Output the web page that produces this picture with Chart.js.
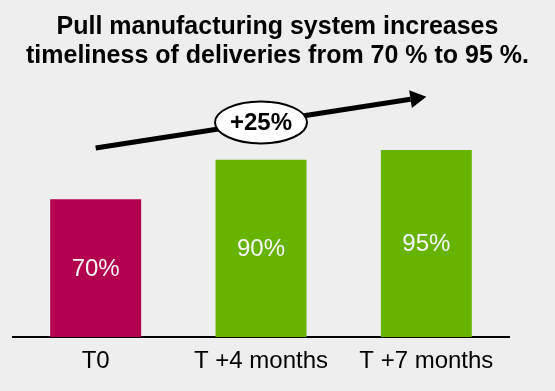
<!DOCTYPE html>
<html>
<head>
<meta charset="utf-8">
<script src="https://cdn.jsdelivr.net/npm/chart.js@4.4.0/dist/chart.umd.min.js"></script>
<style>
  html, body { margin: 0; padding: 0; background: #eeeeee; }
  #wrap { width: 555px; height: 391px; }
</style>
</head>
<body>
<div id="wrap"><canvas id="c" width="555" height="391"></canvas></div>
<script>
const titleLines = ['Pull manufacturing system increases', 'timeliness of deliveries from 70 % to 95 %.'];
const categories = ['T0', 'T +4 months', 'T +7 months'];
const values = [70, 90, 95];
const barColors = ['#b3004f', '#66b300', '#66b300'];
const arrowFrom = [0, 96];   // [category index, value]
const arrowTo = [2, 122];
const arrowLabel = '+25%';

const FONT = '"Liberation Sans", Arial, sans-serif';

const bgPlugin = {
  id: 'bg',
  beforeDraw(chart) {
    const ctx = chart.ctx;
    ctx.save();
    ctx.fillStyle = '#eeeeee';
    ctx.fillRect(0, 0, chart.width, chart.height);
    ctx.restore();
  }
};

const titlePlugin = {
  id: 'titleText',
  afterDraw(chart) {
    const ctx = chart.ctx;
    ctx.save();
    ctx.fillStyle = '#000';
    ctx.font = 'bold 25px ' + FONT;
    ctx.textAlign = 'center';
    ctx.textBaseline = 'alphabetic';
    ctx.fillText(titleLines[0], chart.width / 2, 34);
    ctx.fillText(titleLines[1], chart.width / 2, 63);
    ctx.restore();
  }
};

const labelPlugin = {
  id: 'barLabels',
  afterDatasetsDraw(chart) {
    const ctx = chart.ctx;
    const meta = chart.getDatasetMeta(0);
    ctx.save();
    ctx.fillStyle = '#f6f6f6';
    ctx.font = '24px ' + FONT;
    ctx.textAlign = 'center';
    ctx.textBaseline = 'middle';
    meta.data.forEach((bar, i) => {
      const y = (bar.y + bar.base) / 2;
      ctx.fillText(values[i] + '%', bar.x, y + 1);
    });
    ctx.restore();
  }
};

const arrowPlugin = {
  id: 'arrow',
  afterDatasetsDraw(chart) {
    const xs = chart.scales.x, ys = chart.scales.y;
    const x1 = xs.getPixelForValue(arrowFrom[0]), y1 = ys.getPixelForValue(arrowFrom[1]);
    const x2 = xs.getPixelForValue(arrowTo[0]), y2 = ys.getPixelForValue(arrowTo[1]);
    const ctx = chart.ctx;
    const ang = Math.atan2(y2 - y1, x2 - x1);
    const headLen = 16, headW = 9;
    const bx = x2 - headLen * Math.cos(ang), by = y2 - headLen * Math.sin(ang);
    ctx.save();
    ctx.strokeStyle = '#000';
    ctx.fillStyle = '#000';
    ctx.lineWidth = 5;
    ctx.beginPath();
    ctx.moveTo(x1, y1);
    ctx.lineTo(bx, by);
    ctx.stroke();
    ctx.beginPath();
    ctx.moveTo(x2, y2);
    ctx.lineTo(bx + headW * Math.sin(ang), by - headW * Math.cos(ang));
    ctx.lineTo(bx - headW * Math.sin(ang), by + headW * Math.cos(ang));
    ctx.closePath();
    ctx.fill();
    // ellipse label
    const mx = (x1 + x2) / 2, my = (y1 + y2) / 2;
    ctx.beginPath();
    ctx.ellipse(mx, my, 46, 21, 0, 0, Math.PI * 2);
    ctx.fillStyle = '#ffffff';
    ctx.fill();
    ctx.lineWidth = 2;
    ctx.stroke();
    ctx.fillStyle = '#000';
    ctx.font = 'bold 24px ' + FONT;
    ctx.textAlign = 'center';
    ctx.textBaseline = 'middle';
    ctx.fillText(arrowLabel, mx, my + 1);
    ctx.restore();
  }
};

new Chart(document.getElementById('c'), {
  type: 'bar',
  data: {
    labels: categories,
    datasets: [{
      data: values,
      backgroundColor: barColors,
      borderWidth: 0,
      categoryPercentage: 1.0,
      barPercentage: 0.55
    }]
  },
  options: {
    responsive: false,
    animation: false,
    layout: { padding: { left: 13, right: 46, top: 81, bottom: 5 } },
    plugins: {
      legend: { display: false },
      title: { display: false },
      tooltip: { enabled: false }
    },
    scales: {
      x: {
        grid: { display: false, drawTicks: false },
        border: { display: true, color: '#000', width: 2 },
        ticks: { color: '#000', font: { family: FONT, size: 24 }, padding: 10, maxRotation: 0 }
      },
      y: {
        display: false,
        min: 0,
        max: 130
      }
    }
  },
  plugins: [bgPlugin, labelPlugin, arrowPlugin, titlePlugin]
});
</script>
</body>
</html>
